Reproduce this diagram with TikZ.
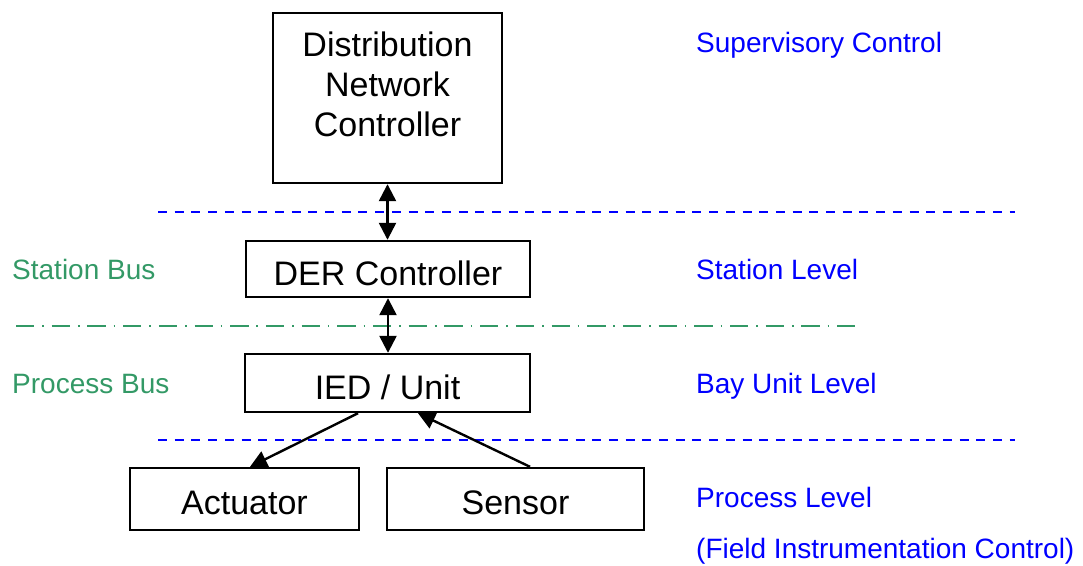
\documentclass[tikz,border=0pt]{standalone}
\usepackage{fontspec}
\setmainfont{Liberation Sans}
\usetikzlibrary{arrows.meta}
\definecolor{busgreen}{RGB}{51,153,102}
\newcommand{\boxfont}{\fontsize{34}{40}\selectfont}
\newcommand{\lblfont}{\fontsize{28}{34}\selectfont}
\begin{document}
\begin{tikzpicture}[x=1pt,y=-1pt,
  box/.style={draw, line width=2.4pt, inner sep=0pt, font=\boxfont},
  lvl/.style={anchor=base west, inner sep=0pt, text=blue, font=\lblfont},
  bus/.style={anchor=base west, inner sep=0pt, text=busgreen, font=\lblfont},
  link/.style={line width=2.4pt, -{Triangle[length=17pt,width=17pt]}},
  dbl/.style={line width=2.4pt, {Triangle[length=17pt,width=17pt]}-{Triangle[length=17pt,width=17pt]}},
  lvlline/.style={blue, line width=2.8pt, dash pattern=on 9pt off 7.7pt},
  busline/.style={busgreen, line width=2.4pt, dash pattern=on 18.3pt off 7.9pt on 1.6pt off 7.9pt}]
\useasboundingbox (0,0) rectangle (1083,565);
% level lines
\draw[lvlline] (158,212) -- (1015,212);
\draw[lvlline] (158,440) -- (1015,440);
\draw[busline] (16,326) -- (862,326);
% boxes
\node[box, minimum width=229pt, minimum height=170pt, text height=10pt, text depth=94pt] (dnc) at (387.5,98)
  {\begin{tabular}[t]{@{}c@{}}Distribution\\Network\\Controller\end{tabular}};
\node[box, minimum width=284pt, minimum height=56pt, text height=32pt, text depth=0pt] (der) at (388,269) {DER Controller};
\node[box, minimum width=285pt, minimum height=58pt, text height=32pt, text depth=0pt] (ied) at (387.5,383) {IED / Unit};
\node[box, minimum width=229pt, minimum height=62pt, text height=30pt, text depth=0pt] (act) at (244.5,499) {Actuator};
\node[box, minimum width=257pt, minimum height=62pt, text height=30pt, text depth=0pt] (sen) at (515.5,499) {Sensor};
% connectors
\draw[dbl] (dnc.south) -- (dnc.south |- der.north);
\draw[dbl] (der.south) -- (der.south |- ied.north);
\draw[link] ([xshift=-29.5pt]ied.south) -- ([xshift=5.5pt]act.north);
\draw[link] ([xshift=14.5pt]sen.north) -- ([xshift=30.5pt]ied.south);
% labels
\node[lvl] (sup) at (696,52) {Supervisory Control};
\node[lvl] (stl) at (696,279) {Station Level};
\node[lvl] (bay) at (696,393) {Bay Unit Level};
\node[lvl] (prl) at (696,507) {Process Level};
\node[lvl] (fic) at (696,558) {(Field Instrumentation Control)};
\node[bus] (stb) at (12,279) {Station Bus};
\node[bus] (prb) at (12,393) {Process Bus};
\end{tikzpicture}
\end{document}
